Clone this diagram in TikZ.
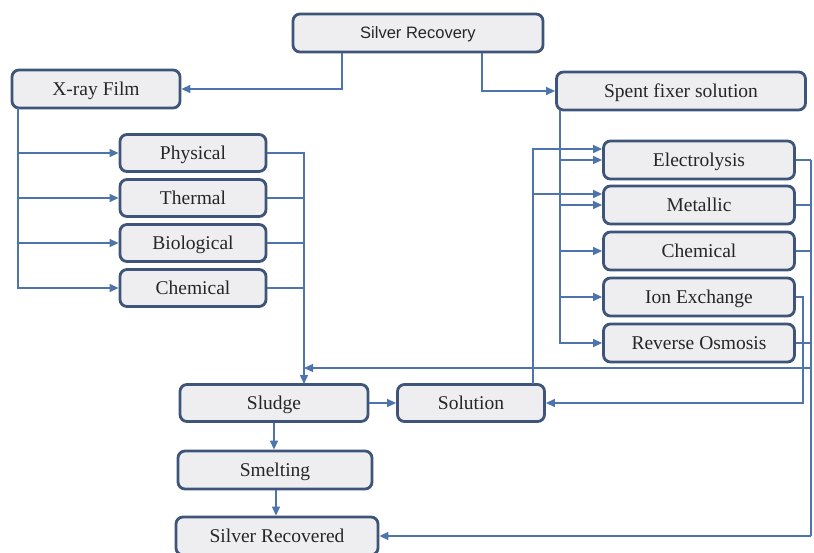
\documentclass[tikz,border=0pt]{standalone}
\usepackage{fontspec}
\setmainfont{Liberation Serif}
\newfontfamily\sansf{Liberation Sans}
\usetikzlibrary{arrows.meta}
\definecolor{boxline}{HTML}{3E5579}
\definecolor{boxfill}{HTML}{EEEEF0}
\definecolor{connc}{HTML}{4D74AC}
\definecolor{txt}{HTML}{262626}
\begin{document}
\begin{tikzpicture}[x=1pt,y=-1pt,
  box/.style={draw=boxline, fill=boxfill, line width=2.8pt, rounded corners=7pt,
    inner sep=0pt, text=txt, text height=15pt, text depth=2pt, font=\fontsize{19.5}{21}\selectfont},
  conn/.style={draw=connc, line width=1.3pt},
  arr/.style={conn, -{Triangle[length=9pt,width=8pt]}}]
\useasboundingbox (0,0) rectangle (814,553);
% top
\node[box, minimum width=250pt, minimum height=38pt, text height=14pt, font=\sansf\fontsize{16.5}{18}\selectfont] (sr) at (418,33) {Silver Recovery};
\node[box, minimum width=168pt, minimum height=38pt] (xray) at (96,89) {X-ray Film};
\node[box, minimum width=249pt, minimum height=38pt] (spent) at (681,91) {Spent fixer solution};
% left methods
\node[box, minimum width=146pt, minimum height=37pt] (phys) at (193,153) {Physical};
\node[box, minimum width=146pt, minimum height=37pt] (therm) at (193,198) {Thermal};
\node[box, minimum width=146pt, minimum height=37pt] (bio) at (193,243) {Biological};
\node[box, minimum width=146pt, minimum height=37pt] (cheml) at (193,288) {Chemical};
% right methods
\node[box, minimum width=191pt, minimum height=38pt] (elec) at (699,160) {Electrolysis};
\node[box, minimum width=191pt, minimum height=38pt] (met) at (699,205) {Metallic};
\node[box, minimum width=191pt, minimum height=38pt] (chemr) at (699,251) {Chemical};
\node[box, minimum width=191pt, minimum height=38pt] (ion) at (699,297) {Ion Exchange};
\node[box, minimum width=191pt, minimum height=38pt] (rosm) at (699,343) {Reverse Osmosis};
% bottom
\node[box, minimum width=188pt, minimum height=37pt] (sludge) at (274,403) {Sludge};
\node[box, minimum width=147pt, minimum height=37pt] (sol) at (471,403) {Solution};
\node[box, minimum width=194pt, minimum height=38pt] (smelt) at (275,470) {Smelting};
\node[box, minimum width=202pt, minimum height=38pt] (silrec) at (277,536) {Silver Recovered};
% coordinates
\coordinate (xv) at (18,108);
\coordinate (slin) at (304,384);
\coordinate (outer) at (811,0);
\coordinate (inner) at (803,0);
\coordinate (sfx) at (560,110);
\coordinate (soltop) at (533,384);
\coordinate (yl) at (0,368);
% top connectors
\draw[arr] ([xshift=-76pt]sr.south) |- (xray.east);
\draw[arr] ([xshift=64pt]sr.south) |- (spent.west);
% X-ray to left methods
\draw[arr] (xv) |- (phys.west);
\draw[arr] (xv) |- (therm.west);
\draw[arr] (xv) |- (bio.west);
\draw[arr] (xv) |- (cheml.west);
% left methods to sludge
\draw[arr] (phys.east) -| (slin);
\draw[conn] (therm.east) -- (therm.east -| slin);
\draw[conn] (bio.east) -- (bio.east -| slin);
\draw[conn] (cheml.east) -- (cheml.east -| slin);
% spent fixer to right methods
\draw[arr] (sfx) |- (elec.west);
\draw[arr] (sfx) |- (met.west);
\draw[arr] (sfx) |- (chemr.west);
\draw[arr] (sfx) |- (ion.west);
\draw[arr] (sfx) |- (rosm.west);
% solution up to electrolysis / metallic
\draw[arr] (soltop) |- ([yshift=11pt]elec.west);
\draw[arr] (soltop) |- ([yshift=11pt]met.west);
% right side collectors
\draw[conn] (elec.east) -- (elec.east -| outer);
\draw[conn] (met.east) -- (met.east -| outer);
\draw[conn] (chemr.east) -- (chemr.east -| outer);
\draw[conn] (rosm.east) -- (rosm.east -| outer);
\draw[conn] (elec.east -| outer) -- (silrec.east -| outer);
\draw[arr] (silrec.east -| outer) -- (silrec.east);
\draw[arr] (outer |- yl) -- (slin |- yl);
\draw[arr] (ion.east) -- (ion.east -| inner) |- (sol.east);
% bottom flow
\draw[arr] (sludge.east) -- (sol.west);
\draw[arr] (sludge.south) -- (sludge.south |- smelt.north);
\draw[arr] ([xshift=1pt]smelt.south) -- ([xshift=1pt]smelt.south |- silrec.north);
\end{tikzpicture}
\end{document}
